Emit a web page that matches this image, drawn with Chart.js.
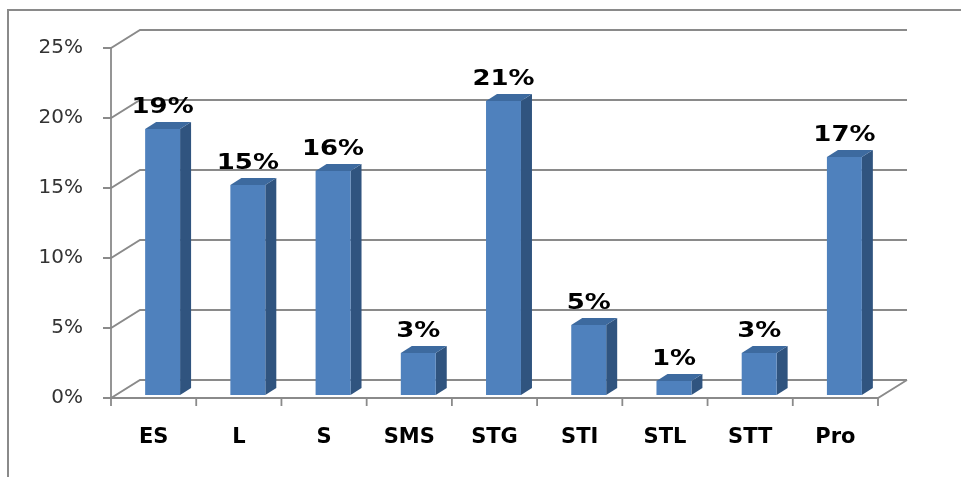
<!DOCTYPE html>
<html>
<head>
<meta charset="utf-8">
<script src="https://cdn.jsdelivr.net/npm/chart.js@4/dist/chart.umd.min.js"></script>
<style>
  html, body { margin: 0; padding: 0; background: #fff; }
  #wrap { width: 961px; height: 477px; position: relative; }
</style>
</head>
<body>
<div id="wrap"><canvas id="chart" width="961" height="477"></canvas></div>
<script>
const categories = ['ES', 'L', 'S', 'SMS', 'STG', 'STI', 'STL', 'STT', 'Pro'];
const shares = [0.19, 0.15, 0.16, 0.03, 0.21, 0.05, 0.01, 0.03, 0.17];
const yTicks = [0, 0.05, 0.10, 0.15, 0.20, 0.25];

const GRID = '#8a8a8a';
const WALL_DX = 29, WALL_DY = -18;   // depth of the back wall
const BAR_DX = 11, BAR_DY = -7;      // depth of each bar
const BAR_SHIFT_X = 9, BAR_SHIFT_Y = -3;

const pct = v => Math.round(v * 100) + '%';

const threeD = {
  id: 'threeD',
  beforeDraw(chart) {
    const ctx = chart.ctx;
    ctx.save();
    ctx.strokeStyle = GRID;
    ctx.lineWidth = 2;
    ctx.beginPath();
    ctx.moveTo(8, 477);
    ctx.lineTo(8, 10);
    ctx.lineTo(961, 10);
    ctx.stroke();
    ctx.restore();
  },
  beforeDatasetsDraw(chart) {
    const { ctx, chartArea: a, scales: { x, y } } = chart;
    ctx.save();
    ctx.strokeStyle = GRID;
    ctx.lineWidth = 1.8;
    yTicks.forEach(v => {
      const py = y.getPixelForValue(v);
      ctx.beginPath();
      ctx.moveTo(a.left - 8, py);
      ctx.lineTo(a.left, py);
      ctx.lineTo(a.left + WALL_DX, py + WALL_DY);
      ctx.lineTo(a.right + WALL_DX, py + WALL_DY);
      ctx.stroke();
    });
    // front axis line
    const y0 = y.getPixelForValue(0);
    ctx.beginPath();
    ctx.moveTo(a.left, y.getPixelForValue(yTicks[yTicks.length - 1]));
    ctx.lineTo(a.left, y0);
    ctx.lineTo(a.right, y0);
    ctx.lineTo(a.right + WALL_DX, y0 + WALL_DY);
    ctx.stroke();
    // category tick marks
    const step = (a.right - a.left) / categories.length;
    for (let i = 0; i <= categories.length; i++) {
      const px = a.left + i * step;
      ctx.beginPath();
      ctx.moveTo(px, y0);
      ctx.lineTo(px, y0 + 8);
      ctx.stroke();
    }
    ctx.restore();
  },
  afterDatasetsDraw(chart) {
    const ctx = chart.ctx;
    const meta = chart.getDatasetMeta(0);
    ctx.save();
    meta.data.forEach((el, i) => {
      const p = el.getProps(['x', 'y', 'base', 'width'], true);
      const l = p.x - p.width / 2 + BAR_SHIFT_X;
      const r = p.x + p.width / 2 + BAR_SHIFT_X;
      const t = p.y + BAR_SHIFT_Y;
      const b = p.base + BAR_SHIFT_Y;
      // side
      ctx.fillStyle = '#30547f';
      ctx.beginPath();
      ctx.moveTo(r, t);
      ctx.lineTo(r + BAR_DX, t + BAR_DY);
      ctx.lineTo(r + BAR_DX, b + BAR_DY);
      ctx.lineTo(r, b);
      ctx.closePath();
      ctx.fill();
      // top
      ctx.fillStyle = '#3d6a9f';
      ctx.beginPath();
      ctx.moveTo(l, t);
      ctx.lineTo(l + BAR_DX, t + BAR_DY);
      ctx.lineTo(r + BAR_DX, t + BAR_DY);
      ctx.lineTo(r, t);
      ctx.closePath();
      ctx.fill();
      // front
      ctx.fillStyle = '#4f81bd';
      ctx.fillRect(l, t, r - l, b - t);
      // value label, a little wider than the plain font
      ctx.save();
      ctx.translate((l + r) / 2, t - 16);
      ctx.scale(1.18, 1);
      ctx.fillStyle = '#000';
      ctx.font = 'bold 22px "DejaVu Sans"';
      ctx.textAlign = 'center';
      ctx.textBaseline = 'alphabetic';
      ctx.fillText(pct(shares[i]), 0, 0);
      ctx.restore();
    });
    ctx.restore();
  }
};

new Chart(document.getElementById('chart'), {
  type: 'bar',
  data: {
    labels: categories,
    datasets: [{
      data: shares,
      backgroundColor: 'rgba(0,0,0,0)',
      borderWidth: 0,
      barPercentage: 0.41,
      categoryPercentage: 1
    }]
  },
  options: {
    responsive: false,
    animation: false,
    events: [],
    layout: { padding: { left: 0, top: 48, right: 83, bottom: 0 } },
    plugins: { legend: { display: false }, tooltip: { enabled: false } },
    scales: {
      x: {
        grid: { display: false },
        border: { display: false },
        ticks: {
          color: '#000',
          font: { family: 'DejaVu Sans', size: 21, weight: 'bold' },
          padding: 19,
          maxRotation: 0
        },
        afterFit(s) { s.height = 79; }
      },
      y: {
        min: 0,
        max: 0.25,
        grid: { display: false },
        border: { display: false },
        afterBuildTicks(s) { s.ticks = yTicks.map(v => ({ value: v })); },
        ticks: {
          color: '#333',
          font: { family: 'DejaVu Sans', size: 20 },
          padding: 20,
          callback: v => pct(v)
        },
        afterFit(s) { s.width = 111; }
      }
    }
  },
  plugins: [threeD]
});
</script>
</body>
</html>
